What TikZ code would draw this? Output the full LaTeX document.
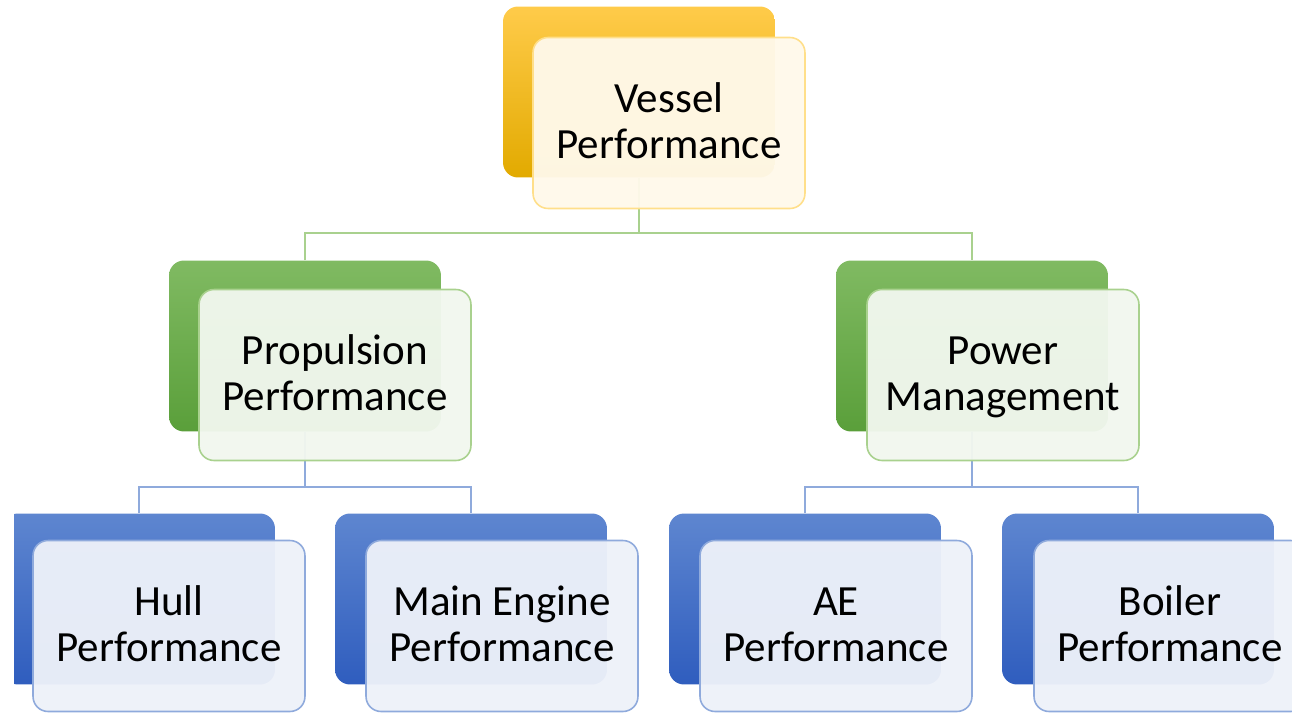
\documentclass[tikz,border=0pt]{standalone}
\usepackage{fontspec}
\setmainfont{Carlito}
\definecolor{ytop}{HTML}{FFCB4A}
\definecolor{ymid}{HTML}{FFC000}
\definecolor{ybot}{HTML}{E2AA00}
\definecolor{gtop}{HTML}{80BA62}
\definecolor{gbot}{HTML}{5A9F3A}
\definecolor{btop}{HTML}{5E86D0}
\definecolor{bbot}{HTML}{2F5DBE}
\definecolor{yedge}{HTML}{FFDF8A}
\definecolor{gedge}{HTML}{A9D18E}
\definecolor{bedge}{HTML}{8FAADC}
\definecolor{yfill}{HTML}{FFF9EA}
\definecolor{gfill}{HTML}{F1F7EE}
\definecolor{bfill}{HTML}{EDF1F9}
\newcommand{\twolines}[2]{\rule{0pt}{\dimexpr\ht\strutbox+3.6pt}#1\\#2\strut}
\begin{document}
\begin{tikzpicture}[x=0.02cm,y=-0.02cm,
  box/.style={rectangle,rounded corners=0.3cm,minimum width=5.44cm,minimum height=3.42cm,inner sep=0pt},
  yback/.style={box,top color=ytop,middle color=ymid,bottom color=ybot},
  gback/.style={box,top color=gtop,bottom color=gbot},
  bback/.style={box,top color=btop,bottom color=bbot},
  front/.style={box,line width=0.9pt,fill opacity=0.96,text opacity=1,align=center,
    font=\fontsize{24.5}{26.5}\selectfont},
  yfront/.style={front,draw=yedge,fill=yfill},
  gfront/.style={front,draw=gedge,fill=gfill},
  bfront/.style={front,draw=bedge,fill=bfill},
  gline/.style={draw=gedge,line width=0.9pt},
  bline/.style={draw=bedge,line width=0.9pt}]
\useasboundingbox (0,0) rectangle (1292,713);
\begin{scope}
\clip (14,0) rectangle (1292,713);
% back boxes
\node[yback] (vb) at (639,92) {};
\node[gback] (pb) at (305,346) {};
\node[gback] (mb) at (972,346) {};
\node[bback] (hb) at (139,599) {};
\node[bback] (eb) at (471,599) {};
\node[bback] (ab) at (805,599) {};
\node[bback] (ob) at (1138,599) {};
% connectors
\draw[gline] (vb.south) -- ++(0,55) coordinate (vj);
\draw[gline] (pb.north) |- (vj) -| (mb.north);
\draw[bline] (pb.south) -- ++(0,55) coordinate (pj);
\draw[bline] (hb.north) |- (pj) -| (eb.north);
\draw[bline] (mb.south) -- ++(0,55) coordinate (mj);
\draw[bline] (ab.north) |- (mj) -| (ob.north);
% front boxes
\node[yfront] (vf) at (669,123) {\twolines{Vessel}{Performance}};
\node[gfront] (pf) at (335,375) {\twolines{Propulsion}{Performance}};
\node[gfront] (mf) at (1003,375) {\twolines{Power}{Management}};
\node[bfront] (hf) at (169,626) {\twolines{Hull}{Performance}};
\node[bfront] (ef) at (502,626) {\twolines{Main Engine}{Performance}};
\node[bfront] (af) at (836,626) {\twolines{AE}{Performance}};
\node[bfront] (of) at (1170,626) {\twolines{Boiler}{Performance}};
\end{scope}
\end{tikzpicture}
\end{document}
